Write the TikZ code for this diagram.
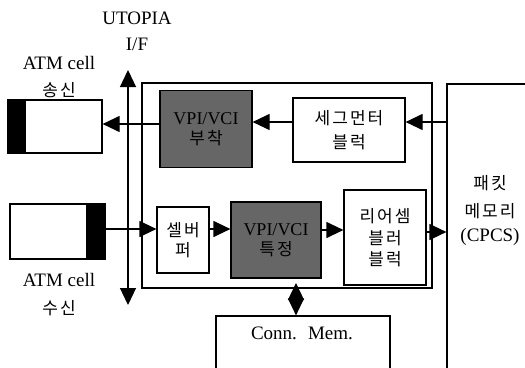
\documentclass[tikz,border=0pt]{standalone}
\usepackage{fontspec}
\setmainfont{Liberation Serif}
\newfontfamily\kr[LetterSpace=12]{Noto Sans CJK KR}
\usetikzlibrary{arrows.meta}
\newcommand{\krt}[1]{{\kr\fontsize{17}{20}\selectfont #1}}
\begin{document}
\begin{tikzpicture}[x=1pt,y=-1pt,line width=1.2pt,
  box/.style={draw,rectangle,inner sep=0pt,align=center},
  darkbox/.style={box,fill=black!60,text=black},
  arr/.style={-{Triangle[length=17pt,width=16pt]}},
  darr/.style={{Triangle[length=17pt,width=16pt]}-{Triangle[length=17pt,width=16pt]}},
  lbl/.style={inner sep=0pt,align=center,font=\fontsize{19}{22}\selectfont},
  krl/.style={inner sep=0pt,font=\kr\fontsize{17}{20}\selectfont}]
\useasboundingbox (0,0) rectangle (525,367);
\clip (0,0) rectangle (525,367);
% labels
\node[lbl] (utopia) at (137,18) {UTOPIA};
\node[lbl] (if) at (137,44) {I/F};
\node[lbl] (atmtx) at (59,63) {ATM cell};
\node[krl] (tx) at (59,90) {송신};
\node[lbl] (atmrx) at (59,280) {ATM cell};
\node[krl] (rx) at (59,308) {수신};
% outer boxes
\node[box,minimum width=290,minimum height=205] (inner) at (287,185.5) {};
\node[box,minimum width=120,minimum height=320] (mem) at (507,244) {};
\node[lbl] (memtxt) at (490,210) {\krt{패킷}\\[6pt]\krt{메모리}\\[2pt](CPCS)};
\node[box,minimum width=174,minimum height=100] (conn) at (303,366) {};
\node[lbl] (conntxt) at (302,333) {Conn.~ Mem.};
% cell boxes
\node[box,minimum width=94,minimum height=53] (txcell) at (55,126.5) {};
\fill (txcell.north west) rectangle ([xshift=19pt]txcell.south west);
\draw (txcell.north west) rectangle (txcell.south east);
\node[box,minimum width=95,minimum height=55] (rxcell) at (57.5,231.5) {};
\fill ([xshift=-20pt]rxcell.north east) rectangle (rxcell.south east);
\draw (rxcell.north west) rectangle (rxcell.south east);
% inner blocks
\node[darkbox,minimum width=92,minimum height=77] (vpitx) at (206,129) {\fontsize{18}{20}\selectfont VPI/VCI\\[5pt]\krt{부착}};
\node[box,minimum width=112,minimum height=64] (seg) at (349,130) {\krt{세그먼터}\\[7pt]\krt{블럭}};
\node[box,minimum width=52,minimum height=66] (buf) at (183,240) {\krt{셀버}\\[3pt]\krt{퍼}};
\node[darkbox,minimum width=90,minimum height=76] (vpirx) at (276,240) {\fontsize{18}{20}\selectfont VPI/VCI\\[5pt]\krt{특정}};
\node[box,minimum width=82,minimum height=95] (reas) at (385,237.5) {\krt{리어셈}\\[6pt]\krt{블러}\\[4pt]\krt{블럭}};
% UTOPIA bus
\coordinate (bustop) at (128,70);
\coordinate (busbot) at (128,305);
\draw[darr] (busbot) -- (bustop);
% connectors
\draw[arr] (vpitx.west |- 0,124) -- (txcell.east |- 0,124);
\draw[arr] (seg.west |- 0,122) -- (vpitx.east |- 0,122);
\draw[arr] (mem.west |- 0,122) -- (seg.east |- 0,122);
\draw[arr] (rxcell.east |- 0,229) -- (buf.west |- 0,229);
\draw[arr] (buf.east |- 0,229) -- (vpirx.west |- 0,229);
\draw[arr] (vpirx.east |- 0,230) -- (reas.west |- 0,230);
\draw[arr] (reas.east |- 0,232) -- (mem.west |- 0,232);
\coordinate (dtop) at (296,283);
\draw[darr] (dtop) -- (conn.north -| dtop);
\end{tikzpicture}
\end{document}
